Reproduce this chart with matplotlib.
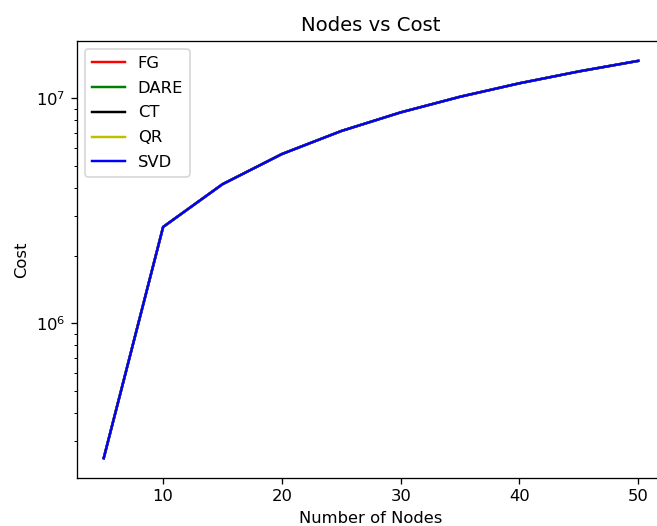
import matplotlib
matplotlib.use("Agg")
import matplotlib.pyplot as plt

nodes = [5, 10, 15, 20, 25, 30, 35, 40, 45, 50]
cost_fg = [2.52e5, 2.68e6, 4.15e6, 5.65e6, 7.15e6, 8.65e6, 1.015e7, 1.165e7, 1.315e7, 1.465e7]
cost_dare = list(cost_fg)
cost_ct = list(cost_fg)
cost_qr = list(cost_fg)
cost_svd = list(cost_fg)

series = [("FG", cost_fg, "r"), ("DARE", cost_dare, "g"), ("CT", cost_ct, "k"),
          ("QR", cost_qr, "y"), ("SVD", cost_svd, "b")]

DPI = 118
fig = plt.figure(figsize=(657/DPI, 526/DPI), dpi=DPI)
ax = fig.add_axes([77/657, 1 - 478/526, (665 - 77)/657, (478 - 41)/526])
for name, vals, c in series:
    ax.plot(nodes, vals, color=c, label=name)
ax.set_yscale("log")
ax.set_title("Nodes vs Cost")
ax.set_xlabel("Number of Nodes")
ax.set_ylabel("Cost")
ax.legend(loc="upper left", labelspacing=0.6)
fig.savefig("out.png", dpi=DPI)
